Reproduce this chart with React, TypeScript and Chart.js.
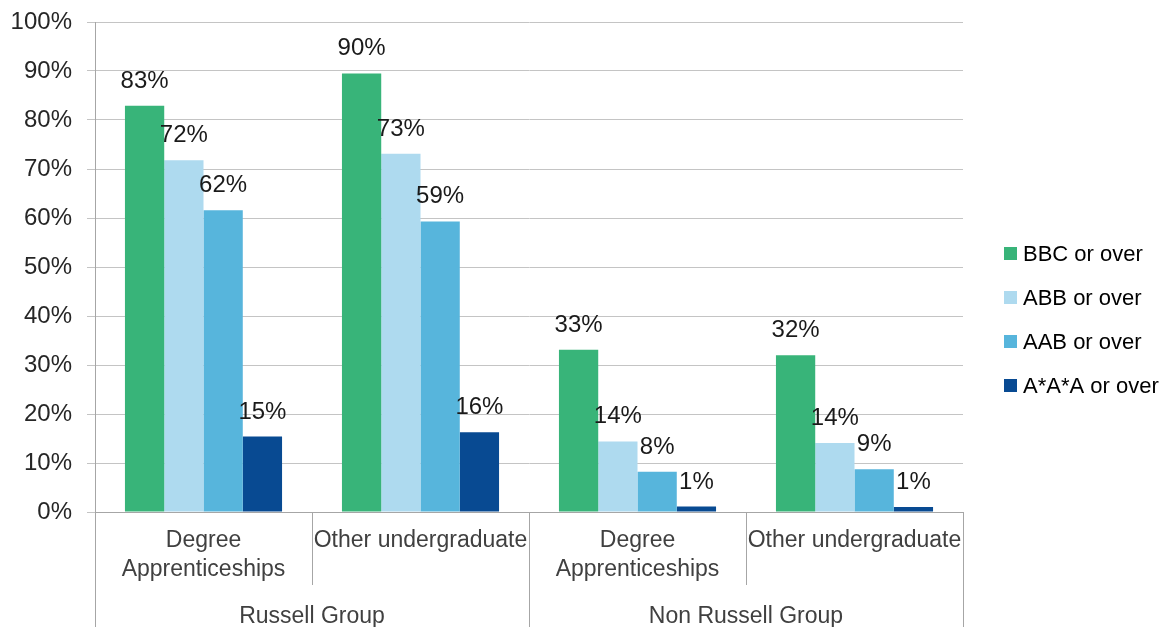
import React, { useEffect, useRef } from "react";
import { Chart, registerables } from "chart.js";

Chart.register(...registerables);

const categories: (string | string[])[] = [
  ["Degree", "Apprenticeships"],
  "Other undergraduate",
  ["Degree", "Apprenticeships"],
  "Other undergraduate",
];
const groupOfCategory = ["Russell Group", "Russell Group", "Non Russell Group", "Non Russell Group"];
const seriesNames = ["BBC or over", "ABB or over", "AAB or over", "A*A*A or over"];
const bbcValues = [82.9, 89.5, 33.1, 32.0];
const abbValues = [71.8, 73.1, 14.4, 14.1];
const aabValues = [61.6, 59.3, 8.2, 8.7];
const aaaValues = [15.4, 16.3, 1.1, 1.0];
const seriesColors = ["#38B479", "#AEDAEF", "#57B5DC", "#084A92"];
const yMin = 0;
const yMax = 100;
const yStep = 10;

const FONT = "'Liberation Sans', Arial, sans-serif";
const AXIS_LINE = "#A6A6A6";
const GRID = "#C4C4C4";

const dataLabelPlugin = {
  id: "dataLabels",
  afterDatasetsDraw(chart: any) {
    const ctx = chart.ctx;
    ctx.save();
    ctx.font = `24px ${FONT}`;
    ctx.fillStyle = "#1A1A1A";
    ctx.textAlign = "center";
    ctx.textBaseline = "alphabetic";
    chart.data.datasets.forEach((ds: any, di: number) => {
      const meta = chart.getDatasetMeta(di);
      meta.data.forEach((el: any, i: number) => {
        const v = ds.data[i];
        ctx.fillText(`${Math.round(v)}%`, el.x, el.y - 18);
      });
    });
    ctx.restore();
  },
};

const multiLevelAxisPlugin = {
  id: "multiLevelAxis",
  afterDraw(chart: any) {
    const ctx = chart.ctx;
    const xs = chart.scales.x;
    const area = chart.chartArea;
    const n = chart.data.labels.length;
    const bounds: number[] = [area.left];
    for (let i = 0; i < n - 1; i++) {
      bounds.push((xs.getPixelForValue(i) + xs.getPixelForValue(i + 1)) / 2);
    }
    bounds.push(area.right);
    const bottom = chart.height;
    const firstLevelBottom = area.bottom + 73;
    ctx.save();
    ctx.strokeStyle = AXIS_LINE;
    ctx.lineWidth = 1;
    for (let b = 0; b < bounds.length; b++) {
      const isGroupEdge =
        b === 0 || b === bounds.length - 1 || groupOfCategory[b - 1] !== groupOfCategory[b];
      const x = Math.round(bounds[b]) + 0.5;
      ctx.beginPath();
      ctx.moveTo(x, area.bottom);
      ctx.lineTo(x, isGroupEdge ? bottom : firstLevelBottom);
      ctx.stroke();
    }
    ctx.font = `23px ${FONT}`;
    ctx.fillStyle = "#404040";
    ctx.textAlign = "center";
    ctx.textBaseline = "alphabetic";
    let start = 0;
    for (let i = 1; i <= n; i++) {
      if (i === n || groupOfCategory[i] !== groupOfCategory[start]) {
        const cx = (bounds[start] + bounds[i]) / 2;
        ctx.fillText(groupOfCategory[start], cx, area.bottom + 111);
        start = i;
      }
    }
    ctx.restore();
  },
};

const legendPlugin = {
  id: "customLegend",
  afterDraw(chart: any) {
    const ctx = chart.ctx;
    ctx.save();
    ctx.font = `22px ${FONT}`;
    ctx.textAlign = "left";
    ctx.textBaseline = "middle";
    chart.data.datasets.forEach((ds: any, i: number) => {
      const cy = 253.5 + i * 44;
      ctx.fillStyle = ds.backgroundColor;
      ctx.fillRect(1004, Math.round(cy - 6.5), 13, 13);
      ctx.fillStyle = "#000000";
      ctx.fillText(ds.label, 1023, cy + 1);
    });
    ctx.restore();
  },
};

export default function App() {
  const canvasRef = useRef<HTMLCanvasElement | null>(null);

  useEffect(() => {
    document.body.style.margin = "0";
    const canvas = canvasRef.current;
    if (!canvas) return;
    const seriesValues = [bbcValues, abbValues, aabValues, aaaValues];
    const chart = new Chart(canvas, {
      type: "bar",
      data: {
        labels: categories,
        datasets: seriesNames.map((name, i) => ({
          label: name,
          data: seriesValues[i],
          backgroundColor: seriesColors[i],
          borderWidth: 0,
          categoryPercentage: 0.724,
          barPercentage: 1,
        })),
      },
      options: {
        responsive: false,
        animation: false,
        layout: { padding: { top: 22, right: 211, bottom: 0, left: 0 } },
        plugins: {
          legend: { display: false },
          tooltip: { enabled: false },
        },
        scales: {
          x: {
            offset: true,
            grid: { display: true, drawOnChartArea: false, drawTicks: false },
            border: { display: true, color: AXIS_LINE, width: 1 },
            ticks: {
              padding: 15,
              color: "#404040",
              font: { family: FONT, size: 23, lineHeight: 1.23 },
              maxRotation: 0,
              autoSkip: false,
            },
            afterFit(scale: any) {
              scale.height = 115;
              scale.paddingLeft = 0;
              scale.paddingRight = 0;
            },
          },
          y: {
            min: yMin,
            max: yMax,
            grid: { color: GRID, tickLength: 8, drawTicks: true },
            border: { display: true, color: AXIS_LINE, width: 1 },
            ticks: {
              stepSize: yStep,
              padding: 15,
              color: "#262626",
              font: { family: FONT, size: 24 },
              callback: (v: any) => `${v}%`,
            },
            afterFit(scale: any) {
              scale.width = 95;
              scale.paddingTop = 0;
              scale.paddingBottom = 0;
            },
          },
        },
      },
      plugins: [dataLabelPlugin, multiLevelAxisPlugin, legendPlugin],
    });
    return () => chart.destroy();
  }, []);

  return (
    <div style={{ width: 1174, height: 627, background: "#ffffff" }}>
      <canvas ref={canvasRef} width={1174} height={627} style={{ display: "block" }} />
    </div>
  );
}
